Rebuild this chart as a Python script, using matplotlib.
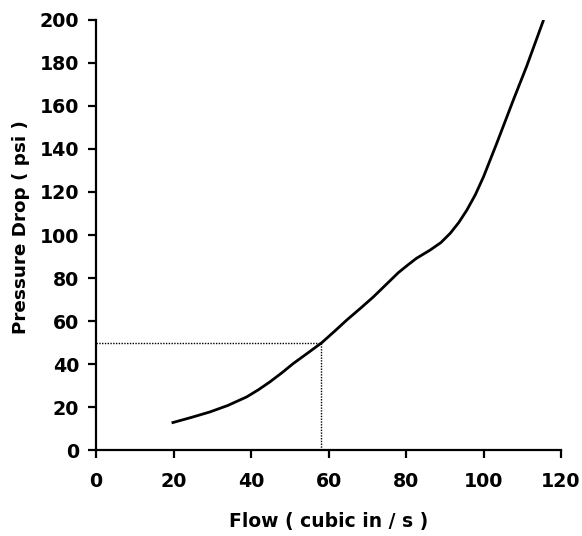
import matplotlib
matplotlib.use("Agg")
import matplotlib.pyplot as plt

flow = [19.5, 24.5, 29.4, 34, 38.9, 41.9, 44.9, 47.9, 50.9, 54.5, 58.2, 61.5, 64.7, 68.2, 71.6, 74.8, 78, 80.4, 82.7, 86.2, 89, 91.4, 93.6, 95.7, 97.9, 100, 103.4, 107.7, 111.1, 115.5]
pressure = [12.7, 15.2, 17.8, 20.8, 24.8, 28.1, 31.8, 35.9, 40.3, 45.0, 49.9, 55.2, 60.5, 65.9, 71.3, 76.9, 82.5, 86.0, 89.2, 93, 96.5, 100.8, 105.8, 111.6, 118.8, 127.1, 142.6, 162.8, 178.3, 200]
marker_flow = 58
marker_pressure = 50
x_ticks = [0, 20, 40, 60, 80, 100, 120]
y_ticks = [0, 20, 40, 60, 80, 100, 120, 140, 160, 180, 200]

plt.rcParams['font.family'] = ['DejaVu Sans']
fig = plt.figure(figsize=(5.82, 5.36), dpi=100)
ax = fig.add_axes([0.165, 0.160, 0.799, 0.803])

ax.plot(flow, pressure, color='black', lw=2.0, solid_capstyle='butt', solid_joinstyle='round')
ax.plot([0, marker_flow], [marker_pressure, marker_pressure], color='black', lw=1.0, ls=(0, (1, 1)))
ax.plot([marker_flow, marker_flow], [0, marker_pressure], color='black', lw=1.0, ls=(0, (1, 1)))

ax.set_xlim(0, 120)
ax.set_ylim(0, 200)
ax.set_xticks(x_ticks)
ax.set_yticks(y_ticks)
for s in ['top', 'right']:
    ax.spines[s].set_visible(False)
for s in ['left', 'bottom']:
    ax.spines[s].set_linewidth(1.6)
ax.tick_params(direction='out', length=6, width=1.6, labelsize=13.7)
ax.tick_params(axis='x', pad=10)
ax.tick_params(axis='y', pad=6)
for lab in ax.get_xticklabels() + ax.get_yticklabels():
    lab.set_fontweight('bold')
ax.set_xlabel('Flow ( cubic in / s )', fontsize=13.5, fontweight='bold', labelpad=15)
ax.set_ylabel('Pressure Drop ( psi )', fontsize=13.2, fontweight='bold')
ax.yaxis.set_label_coords(-0.142, 0.519)

fig.savefig('out.png', dpi=100)
